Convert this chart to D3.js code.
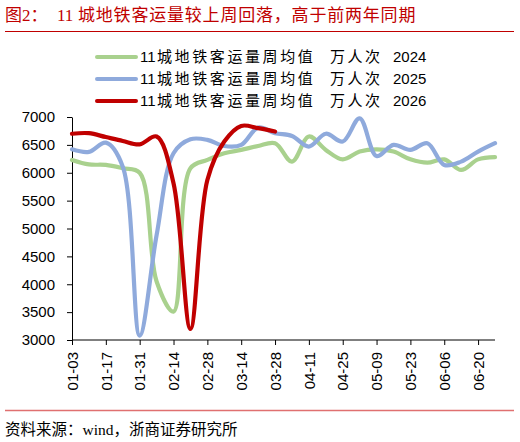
<html>
<head>
<script src="https://d3js.org/d3.v7.min.js"></script>
<style>
  body { margin: 0; background: #fff; }
  svg text { font-family: "Liberation Sans", "Noto Sans CJK SC", sans-serif; }
  .serif { font-family: "Liberation Serif", "Noto Sans CJK SC", serif; }
</style>
</head>
<body>
<svg width="520" height="442"></svg>
<script>
// weekly x categories (01-03 .. 06-27), only every second one labelled
var weeks = ["01-03","01-10","01-17","01-24","01-31","02-07","02-14","02-21","02-28","03-07",
             "03-14","03-21","03-28","04-04","04-11","04-18","04-25","05-02","05-09","05-16",
             "05-23","05-30","06-06","06-13","06-20","06-27"];
var yTicks = [3000, 3500, 4000, 4500, 5000, 5500, 6000, 6500, 7000];

var v2024 = [6230, 6150, 6140, 6080, 6000, 4050, 3510, 6080, 6230, 6350, 6410, 6480, 6530,
             6200, 6650, 6410, 6240, 6380, 6420, 6380, 6240, 6180, 6240, 6050, 6240, 6280];
var v2025 = [6420, 6375, 6540, 6110, 3080, 4880, 6350, 6600, 6590, 6480, 6500, 6810, 6710,
             6660, 6470, 6700, 6560, 6975, 6300, 6500, 6410, 6530, 6140, 6200, 6380, 6530];
var v2026 = [6700, 6710, 6640, 6570, 6510, 6650, 5810, 3200, 5870, 6560, 6840, 6800, 6740];

var seriesNames = ["11城地铁客运量周均值 万人次 2024",
                   "11城地铁客运量周均值 万人次 2025",
                   "11城地铁客运量周均值 万人次 2026"];
var seriesColors = ["#a9d18e", "#8faadc", "#c00000"];

function draw() {
  var mLeft = 72, mRight = 495, mTop = 117, mBottom = 340;
  var svg = d3.select("svg");

  // title
  var title = svg.append("text").attr("class", "serif").attr("y", 21)
    .attr("fill", "#c00000").style("font-size", "17px");
  title.append("tspan").attr("x", 5).text("图2：");
  title.append("tspan").attr("x", 57).text("11");
  title.append("tspan").attr("x", 78).style("letter-spacing", "0.8px")
    .text("城地铁客运量较上周回落，高于前两年同期");
  svg.append("line").attr("x1", 5).attr("x2", 514).attr("y1", 31.5).attr("y2", 31.5)
    .attr("stroke", "#c00000").attr("stroke-width", 1);

  var x = d3.scalePoint().domain(weeks).range([mLeft, mRight]);
  var y = d3.scaleLinear().domain([3000, 7000]).range([mBottom, mTop]);

  var yAxis = svg.append("g").attr("transform", "translate(" + mLeft + ",0)")
    .call(d3.axisLeft(y).tickValues(yTicks).tickFormat(d3.format("d"))
      .tickSize(5).tickPadding(12).tickSizeOuter(0));
  yAxis.selectAll("text").style("font-size", "15px").attr("fill", "#000");
  yAxis.selectAll("line,path").attr("stroke", "#000");

  var xAxis = svg.append("g").attr("transform", "translate(0," + mBottom + ")")
    .call(d3.axisBottom(x).tickValues(weeks.filter(function (d, i) { return i % 2 == 0; }))
      .tickSize(5).tickSizeOuter(0));
  xAxis.select("path").attr("d", "M" + mLeft + ",0H" + mRight).attr("stroke", "#000");
  xAxis.selectAll("line").attr("stroke", "#000");
  xAxis.selectAll("text")
    .attr("transform", "rotate(-90)")
    .attr("x", -12).attr("y", 0).attr("dy", "0.35em")
    .style("text-anchor", "end").style("font-size", "15px").attr("fill", "#000");

  var line = d3.line()
    .x(function (d, i) { return x(weeks[i]); })
    .y(function (d) { return y(d); })
    .curve(d3.curveCatmullRom.alpha(0.5));

  [v2024, v2025, v2026].forEach(function (vals, k) {
    svg.append("path").attr("d", line(vals)).attr("fill", "none")
      .attr("stroke", seriesColors[k]).attr("stroke-width", 4.2)
      .attr("stroke-linejoin", "round").attr("stroke-linecap", "round");
  });

  // legend: split name so the CJK part can be spaced like the original
  seriesNames.forEach(function (name, k) {
    var ly = 57 + k * 22;
    var parts = name.split(" ");
    svg.append("line").attr("x1", 97).attr("x2", 136).attr("y1", ly).attr("y2", ly)
      .attr("stroke", seriesColors[k]).attr("stroke-width", 4).attr("stroke-linecap", "round");
    var t = svg.append("text").attr("y", ly).attr("dy", "0.35em")
      .style("font-size", "15px").attr("fill", "#000");
    t.append("tspan").attr("x", 140).text(parts[0].slice(0, 2));
    t.append("tspan").attr("x", 157).style("letter-spacing", "2.6px").text(parts[0].slice(2));
    t.append("tspan").attr("x", 330).style("letter-spacing", "2.5px").text(parts[1]);
    t.append("tspan").attr("x", 393).text(parts[2]);
  });

  // footer
  svg.append("line").attr("x1", 5).attr("x2", 514).attr("y1", 410.5).attr("y2", 410.5)
    .attr("stroke", "#e07070").attr("stroke-width", 1.5);
  svg.append("text").attr("class", "serif").attr("x", 5).attr("y", 435)
    .style("font-size", "15.5px").attr("fill", "#000")
    .text("资料来源：wind，浙商证券研究所");
}

draw();
</script>
</body>
</html>
